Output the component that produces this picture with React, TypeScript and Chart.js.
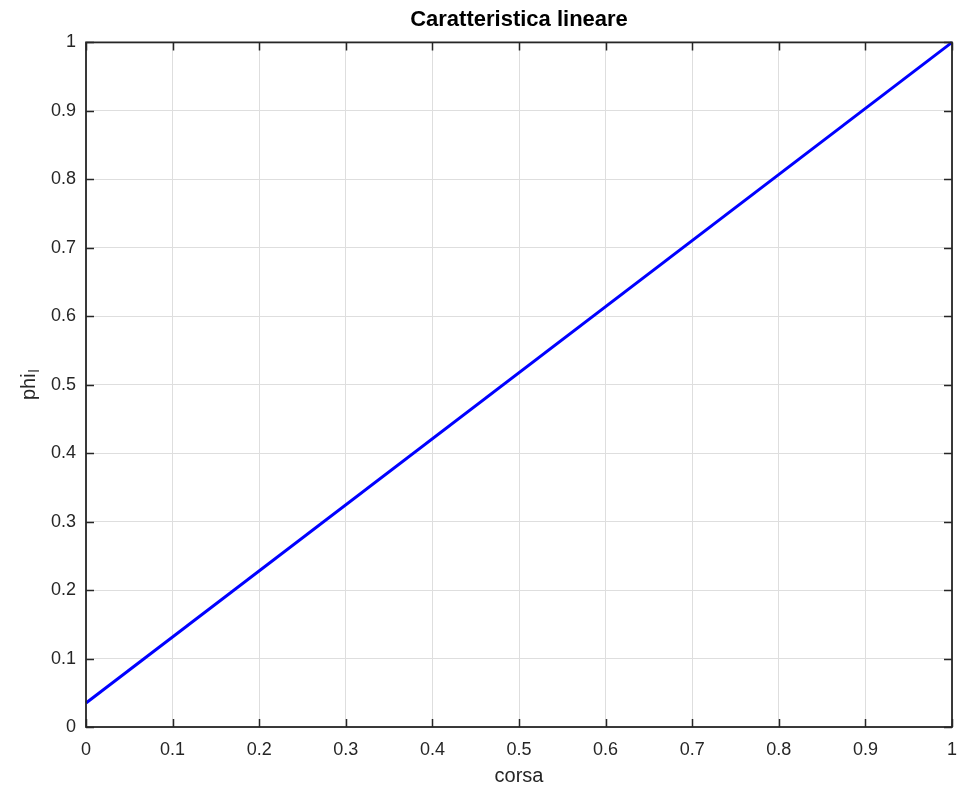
import React, { useEffect, useRef } from "react";
import { Chart, registerables } from "chart.js";

Chart.register(...registerables);

// Data
const corsa = [0, 1];
const phiL = [0.035, 1];

const xTicks = [0, 0.1, 0.2, 0.3, 0.4, 0.5, 0.6, 0.7, 0.8, 0.9, 1];
const yTicks = [0, 0.1, 0.2, 0.3, 0.4, 0.5, 0.6, 0.7, 0.8, 0.9, 1];

const titleText = "Caratteristica lineare";
const xLabel = "corsa";
const yLabelMain = "phi";
const yLabelSub = "l";

const FONT = "'Liberation Sans', Arial, Helvetica, sans-serif";
const AXIS_COLOR = "#262626";
const GRID_COLOR = "#dedede";

const fmt = (v: number) => String(Math.round(v * 10) / 10);

const framePlugin = {
  id: "matlabFrame",
  afterDraw(chart: any) {
    const { ctx, chartArea } = chart;
    const { left, right, top, bottom } = chartArea;
    const xs = chart.scales.x;
    const ys = chart.scales.y;
    const tl = 8;
    ctx.save();
    ctx.strokeStyle = AXIS_COLOR;
    ctx.lineWidth = 1.5;
    // ticks inward on all sides
    ctx.beginPath();
    xTicks.forEach((t) => {
      const px = Math.round(xs.getPixelForValue(t)) + 0.5;
      ctx.moveTo(px, bottom);
      ctx.lineTo(px, bottom - tl);
      ctx.moveTo(px, top);
      ctx.lineTo(px, top + tl);
    });
    yTicks.forEach((t) => {
      const py = Math.round(ys.getPixelForValue(t)) + 0.5;
      ctx.moveTo(left, py);
      ctx.lineTo(left + tl, py);
      ctx.moveTo(right, py);
      ctx.lineTo(right - tl, py);
    });
    ctx.stroke();
    ctx.lineWidth = 1.8;
    ctx.strokeRect(left, top, right - left, bottom - top);

    // y label with subscript
    const cy = (top + bottom) / 2;
    ctx.fillStyle = AXIS_COLOR;
    ctx.translate(35, cy);
    ctx.rotate(-Math.PI / 2);
    ctx.font = `20px ${FONT}`;
    const wMain = ctx.measureText(yLabelMain).width;
    ctx.font = `14px ${FONT}`;
    const wSub = ctx.measureText(yLabelSub).width;
    const total = wMain + wSub + 1;
    ctx.textBaseline = "alphabetic";
    ctx.textAlign = "left";
    ctx.font = `20px ${FONT}`;
    ctx.fillText(yLabelMain, -total / 2, 0);
    ctx.font = `14px ${FONT}`;
    ctx.fillText(yLabelSub, -total / 2 + wMain + 1, 4);
    ctx.restore();
  },
};

export default function App() {
  const ref = useRef<HTMLCanvasElement | null>(null);

  useEffect(() => {
    if (!ref.current) return;
    const chart = new Chart(ref.current, {
      type: "scatter",
      data: {
        datasets: [
          {
            label: "phi_l",
            data: corsa.map((x, i) => ({ x, y: phiL[i] })),
            showLine: true,
            borderColor: "#0000ff",
            backgroundColor: "#0000ff",
            borderWidth: 3,
            pointRadius: 0,
            clip: false,
          } as any,
        ],
      },
      plugins: [framePlugin],
      options: {
        animation: false,
        responsive: false,
        devicePixelRatio: 1,
        layout: { padding: { left: 0, right: 6, top: 0, bottom: 0 } },
        plugins: {
          legend: { display: false },
          tooltip: { enabled: false },
          title: {
            display: true,
            fullSize: false,
            text: titleText,
            color: "#000000",
            font: { family: FONT, size: 22, weight: "bold" },
            padding: { top: 7, bottom: 9 },
          },
        },
        scales: {
          x: {
            type: "linear",
            min: 0,
            max: 1,
            afterBuildTicks: (s: any) => {
              s.ticks = xTicks.map((v) => ({ value: v }));
            },
            afterFit: (s: any) => {
              s.height = 65;
              s.paddingRight = 0;
              s.paddingLeft = 0;
            },
            ticks: {
              color: AXIS_COLOR,
              font: { family: FONT, size: 18 },
              padding: 12,
              maxRotation: 0,
              callback: (v: any) => fmt(Number(v)),
            },
            grid: { color: GRID_COLOR, lineWidth: 1, drawTicks: false, tickLength: 0 },
            border: { display: false },
            title: {
              display: true,
              text: xLabel,
              color: AXIS_COLOR,
              font: { family: FONT, size: 20 },
              padding: { top: 0, bottom: 4 },
            },
          },
          y: {
            type: "linear",
            min: 0,
            max: 1,
            afterBuildTicks: (s: any) => {
              s.ticks = yTicks.map((v) => ({ value: v }));
            },
            afterFit: (s: any) => {
              s.width = 86;
            },
            ticks: {
              color: AXIS_COLOR,
              font: { family: FONT, size: 18 },
              padding: 10,
              callback: (v: any) => fmt(Number(v)),
            },
            grid: { color: GRID_COLOR, lineWidth: 1, drawTicks: false, tickLength: 0 },
            border: { display: false },
          },
        },
      } as any,
    });
    return () => chart.destroy();
  }, []);

  return (
    <div style={{ position: "absolute", left: 0, top: 0, width: 958, height: 792, background: "#fff" }}>
      <canvas ref={ref} width={958} height={792} style={{ width: 958, height: 792, display: "block" }} />
    </div>
  );
}
